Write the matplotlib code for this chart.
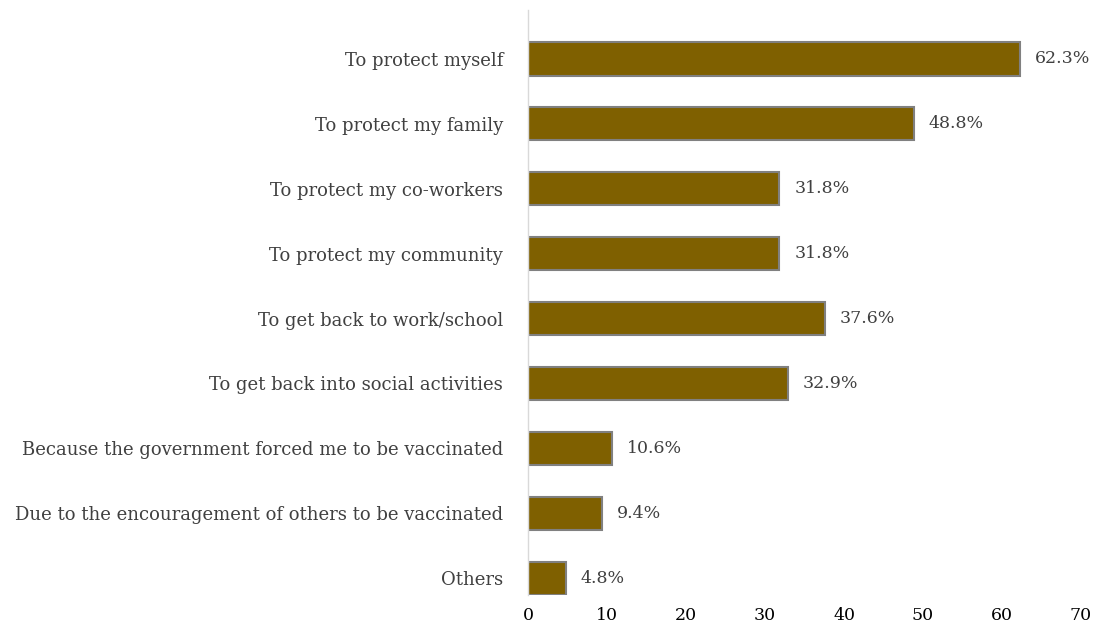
import matplotlib
matplotlib.use("Agg")
import matplotlib.pyplot as plt

# reasons, listed top to bottom
reasons = ["To protect myself",
           "To protect my family",
           "To protect my co-workers",
           "To protect my community",
           "To get back to work/school",
           "To get back into social activities",
           "Because the government forced me to be vaccinated",
           "Due to the encouragement of others to be vaccinated",
           "Others"]
percent = [62.3, 48.8, 31.8, 31.8, 37.6, 32.9, 10.6, 9.4, 4.8]
xticks = [0, 10, 20, 30, 40, 50, 60, 70]

plt.rcParams['font.family'] = ['DejaVu Serif']

fig = plt.figure(figsize=(11.04, 6.25), dpi=100)
ax = fig.add_axes([528 / 1104, 30 / 625, (1081 - 528) / 1104, 585 / 625])

n = len(reasons)
ypos = [n - 1 - i for i in range(n)]
ax.barh(ypos, percent, height=0.51, color="#7f6000", edgecolor="#808080", linewidth=1.5)

for y, v in zip(ypos, percent):
    ax.text(v + 1.9, y, "%.1f%%" % v, va="center", ha="left", fontsize=12.5, color="#404040")

ax.set_yticks(ypos)
ax.set_yticklabels(reasons, fontsize=13, color="#404040")
ax.set_xticks(xticks)
ax.set_xticklabels([str(t) for t in xticks], fontsize=12.5, color="#000000")
ax.set_xlim(0, 70)
ax.set_ylim(-0.26, 8.755)
ax.tick_params(axis="both", length=0)
ax.tick_params(axis="x", pad=9)
ax.tick_params(axis="y", pad=18)

for s in ["top", "right", "bottom"]:
    ax.spines[s].set_visible(False)
ax.spines["left"].set_color("#d9d9d9")
ax.spines["left"].set_linewidth(1)

fig.savefig("out.png", dpi=100)
